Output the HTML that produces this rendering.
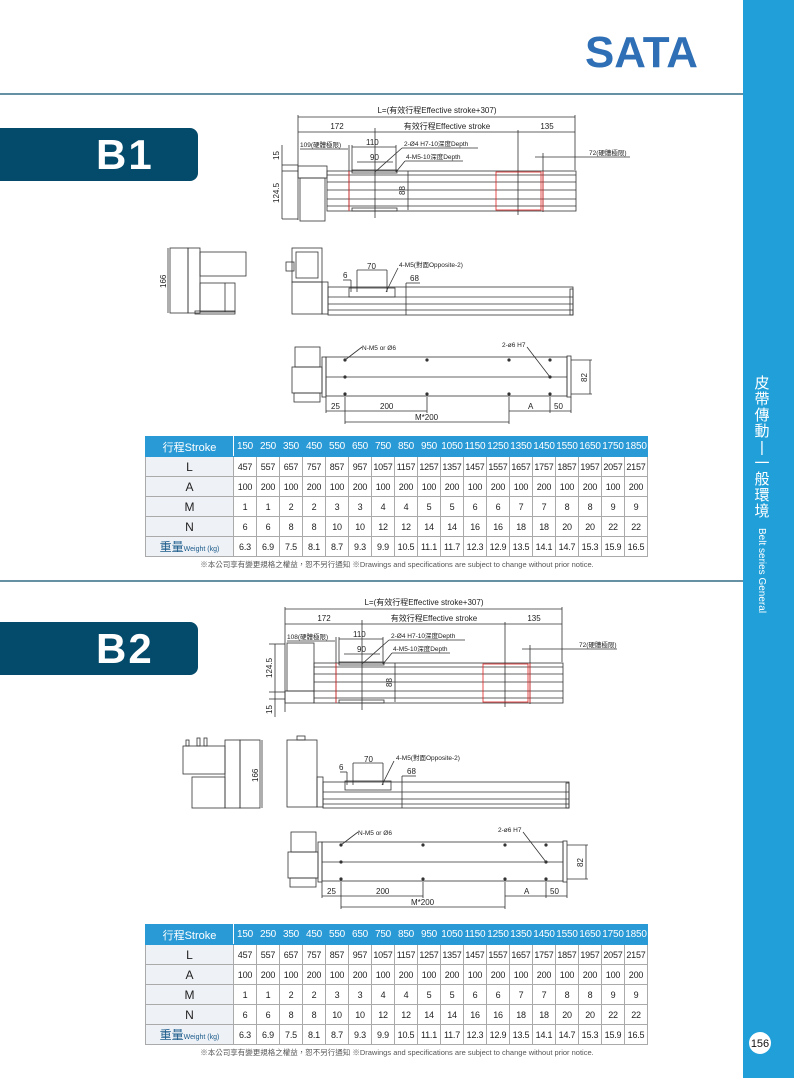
<!DOCTYPE html>
<html><head><meta charset="utf-8"><style>
body{margin:0;width:794px;height:1078px;position:relative;background:#fff;font-family:"Liberation Sans","Noto Sans CJK TC",sans-serif;overflow:hidden}
.tab{position:absolute;left:0;width:198px;height:53px;background:#044a6a;border-radius:0 8px 8px 0;color:#fff;font-weight:bold;font-size:42px;line-height:53px;text-indent:96px;letter-spacing:2px}
table{position:absolute;left:145px;border-collapse:collapse;font-size:9px;color:#222;table-layout:fixed;letter-spacing:-0.2px}
td{height:19px;border:1px solid #aaa;text-align:center;padding:0;white-space:nowrap;overflow:hidden}
td.h{width:87px;background:#eef1f6;font-size:12px;letter-spacing:0}
tr.hd td{background:#2a9ad6;color:#fff;border-color:#2a9ad6;font-size:10px}
tr.hd td.h{background:#2a9ad6;border-right:1px solid #fff;font-size:11px}
td.d{width:22px}
.note{position:absolute;left:150px;width:494px;text-align:center;font-size:7.5px;color:#555}
</style></head><body>
<svg width="794" height="1078" style="position:absolute;left:0;top:0" font-family="Liberation Sans, Noto Sans CJK TC, sans-serif">
<rect x="743" y="0" width="51" height="1078" fill="#219fd9"/>
<line x1="0" y1="94" x2="743" y2="94" stroke="#0a4f6e" stroke-width="1.3"/>
<line x1="0" y1="581" x2="743" y2="581" stroke="#0a4f6e" stroke-width="1.3"/>
<text x="585" y="67" font-size="44" font-weight="bold" fill="#2f6fb5" textLength="113" lengthAdjust="spacingAndGlyphs">SATA</text>
<text font-size="15" fill="#fff" text-anchor="middle"><tspan x="762" y="388">皮</tspan><tspan x="762" y="404">帶</tspan><tspan x="762" y="420">傳</tspan><tspan x="762" y="436">動</tspan><tspan x="762" y="452">|</tspan><tspan x="762" y="468">一</tspan><tspan x="762" y="484">般</tspan><tspan x="762" y="500">環</tspan><tspan x="762" y="516">境</tspan></text>
<text transform="translate(759,528) rotate(90)" font-size="10" fill="#fff">Belt series General</text>
<circle cx="760" cy="1043" r="11" fill="#fff"/>
<text x="760" y="1047" text-anchor="middle" font-size="11" fill="#111">156</text>

<defs>
<g id="bot" stroke="#333" stroke-width="0.8" fill="none">
<rect x="295" y="347" width="25" height="20"/><rect x="292" y="367" width="30" height="26"/><rect x="294" y="393" width="26" height="9"/>
<rect x="322" y="357" width="4" height="40"/>
<rect x="326" y="357" width="241" height="39"/><rect x="567" y="356" width="4" height="41"/>
<line x1="326" y1="377" x2="567" y2="377"/>
<g fill="#333" stroke="none"><circle cx="345" cy="360" r="1.6"/><circle cx="427" cy="360" r="1.6"/><circle cx="509" cy="360" r="1.6"/><circle cx="550" cy="360" r="1.6"/><circle cx="345" cy="377" r="1.6"/><circle cx="550" cy="377" r="1.6"/><circle cx="345" cy="394" r="1.6"/><circle cx="427" cy="394" r="1.6"/><circle cx="509" cy="394" r="1.6"/><circle cx="550" cy="394" r="1.6"/></g>
<line x1="345" y1="360" x2="362" y2="347"/><line x1="550" y1="377" x2="527" y2="347"/>
<line x1="571" y1="360" x2="592" y2="360"/><line x1="571" y1="394" x2="592" y2="394"/><line x1="590" y1="360" x2="590" y2="394"/>
<line x1="326" y1="397" x2="326" y2="413"/><line x1="345" y1="397" x2="345" y2="424"/><line x1="427" y1="397" x2="427" y2="413"/><line x1="509" y1="397" x2="509" y2="424"/><line x1="550" y1="397" x2="550" y2="413"/><line x1="571" y1="397" x2="571" y2="413"/>
<line x1="326" y1="411" x2="427" y2="411"/><line x1="509" y1="411" x2="571" y2="411"/><line x1="345" y1="422" x2="509" y2="422"/>
</g>
</defs>

<!-- B1 -->
<g stroke="#333" stroke-width="0.8" fill="none">
<line x1="298" y1="117" x2="575" y2="117"/><line x1="298" y1="115" x2="298" y2="220"/><line x1="575" y1="115" x2="575" y2="170"/>
<line x1="298" y1="132" x2="575" y2="132"/>
<line x1="375" y1="128" x2="375" y2="218"/><line x1="518" y1="130" x2="518" y2="215"/>
<line x1="300" y1="149" x2="348" y2="149"/><line x1="349" y1="145" x2="349" y2="210"/>
<line x1="352" y1="147" x2="396" y2="147"/><line x1="352" y1="145" x2="352" y2="172"/><line x1="396" y1="145" x2="396" y2="172"/>
<line x1="357" y1="162" x2="393" y2="162"/>
<line x1="375" y1="172" x2="402" y2="148"/><line x1="402" y1="148" x2="478" y2="148"/>
<line x1="396" y1="172" x2="405" y2="161"/><line x1="405" y1="161" x2="463" y2="161"/>
<line x1="535" y1="157" x2="630" y2="157"/><line x1="543" y1="153" x2="543" y2="212"/>
<line x1="282" y1="165" x2="298" y2="165"/><line x1="282" y1="171" x2="298" y2="171"/><line x1="282" y1="219" x2="298" y2="219"/><line x1="282" y1="145" x2="282" y2="219"/>
<rect x="298" y="166" width="29" height="12"/><rect x="300" y="178" width="25" height="43"/>
<rect x="327" y="171" width="249" height="40"/>
<line x1="327" y1="175" x2="576" y2="175"/><line x1="327" y1="182" x2="576" y2="182"/><line x1="327" y1="190" x2="576" y2="190"/><line x1="327" y1="199" x2="576" y2="199"/><line x1="327" y1="206" x2="576" y2="206"/>
<rect x="352" y="170" width="45" height="3"/><rect x="352" y="208" width="45" height="3"/>
<line x1="408" y1="171" x2="408" y2="210"/>
<line x1="349" y1="171" x2="349" y2="211" stroke="#e02020"/><rect x="496" y="172" width="45" height="38" stroke="#e02020"/><line x1="543" y1="171" x2="543" y2="211" stroke="#e02020"/>
<rect x="170" y="248" width="18" height="65"/><rect x="188" y="248" width="12" height="65"/><rect x="200" y="252" width="46" height="24"/><rect x="200" y="283" width="35" height="29"/><line x1="225" y1="283" x2="225" y2="312"/><rect x="195" y="311" width="40" height="3"/>
<line x1="168" y1="248" x2="168" y2="313"/>
<rect x="292" y="248" width="30" height="34"/><rect x="296" y="252" width="22" height="26"/><rect x="286" y="262" width="8" height="9"/>
<rect x="292" y="282" width="30" height="32"/><rect x="322" y="282" width="6" height="32"/>
<rect x="328" y="287" width="245" height="28"/><line x1="328" y1="297" x2="573" y2="297"/><line x1="328" y1="304" x2="573" y2="304"/><line x1="328" y1="310" x2="573" y2="310"/><rect x="570" y="289" width="3" height="26"/>
<rect x="349" y="288" width="46" height="9"/>
<line x1="357" y1="270" x2="387" y2="270"/><line x1="357" y1="270" x2="357" y2="292"/><line x1="387" y1="270" x2="387" y2="292"/>
<line x1="343" y1="280" x2="351" y2="280"/><line x1="351" y1="280" x2="351" y2="292"/>
<line x1="386" y1="292" x2="398" y2="268"/><line x1="406" y1="283" x2="420" y2="283"/><line x1="406" y1="283" x2="406" y2="315"/>
</g>
<g font-size="8" fill="#222">
<text x="437" y="113" text-anchor="middle">L=(有效行程Effective stroke+307)</text>
<text x="337" y="129" text-anchor="middle">172</text>
<text x="447" y="129" text-anchor="middle">有效行程Effective stroke</text>
<text x="547" y="129" text-anchor="middle">135</text>
<text x="300" y="147" font-size="6.5">109(硬體極限)</text>
<text x="366" y="145">110</text><text x="370" y="160">90</text>
<text x="404" y="146" font-size="6.5">2-Ø4 H7-10深度Depth</text>
<text x="406" y="159" font-size="6.5">4-M5-10深度Depth</text>
<text x="589" y="155" font-size="6.5">72(硬體極限)</text>
<text transform="translate(405,195) rotate(-90)">88</text>
<text transform="translate(279,160) rotate(-90)">15</text>
<text transform="translate(279,203) rotate(-90)">124.5</text>
<text transform="translate(166,288) rotate(-90)">166</text>
<text x="367" y="269">70</text><text x="343" y="278">6</text>
<text x="399" y="267" font-size="6.5">4-M5(對面Opposite-2)</text><text x="410" y="281">68</text>
</g>
<use href="#bot"/>
<g font-size="8" fill="#222">
<text x="362" y="350" font-size="6.5">N-M5 or Ø6</text><text x="502" y="347" font-size="6.5">2-ø6 H7</text>
<text transform="translate(587,382) rotate(-90)">82</text>
<text x="331" y="409">25</text><text x="380" y="409">200</text><text x="528" y="409">A</text><text x="554" y="409">50</text><text x="415" y="420">M*200</text>
</g>

<!-- B2 -->
<g transform="translate(-13,492)">
<g stroke="#333" stroke-width="0.8" fill="none">
<line x1="298" y1="117" x2="575" y2="117"/><line x1="298" y1="115" x2="298" y2="220"/><line x1="575" y1="115" x2="575" y2="170"/>
<line x1="298" y1="132" x2="575" y2="132"/>
<line x1="375" y1="128" x2="375" y2="218"/><line x1="518" y1="130" x2="518" y2="215"/>
<line x1="300" y1="149" x2="348" y2="149"/><line x1="349" y1="145" x2="349" y2="210"/>
<line x1="352" y1="147" x2="396" y2="147"/><line x1="352" y1="145" x2="352" y2="172"/><line x1="396" y1="145" x2="396" y2="172"/>
<line x1="357" y1="162" x2="393" y2="162"/>
<line x1="375" y1="172" x2="402" y2="148"/><line x1="402" y1="148" x2="478" y2="148"/>
<line x1="396" y1="172" x2="405" y2="161"/><line x1="405" y1="161" x2="463" y2="161"/>
<line x1="535" y1="157" x2="630" y2="157"/><line x1="543" y1="153" x2="543" y2="212"/>
<line x1="282" y1="152" x2="298" y2="152"/><line x1="282" y1="200" x2="298" y2="200"/><line x1="282" y1="207" x2="298" y2="207"/><line x1="288" y1="152" x2="288" y2="225"/>
<rect x="300" y="151" width="27" height="48"/><rect x="298" y="199" width="29" height="12"/>
<rect x="327" y="171" width="249" height="40"/>
<line x1="327" y1="175" x2="576" y2="175"/><line x1="327" y1="182" x2="576" y2="182"/><line x1="327" y1="190" x2="576" y2="190"/><line x1="327" y1="199" x2="576" y2="199"/><line x1="327" y1="206" x2="576" y2="206"/>
<rect x="352" y="170" width="45" height="3"/><rect x="352" y="208" width="45" height="3"/>
<line x1="408" y1="171" x2="408" y2="210"/>
<line x1="349" y1="171" x2="349" y2="211" stroke="#e02020"/><rect x="496" y="172" width="45" height="38" stroke="#e02020"/><line x1="543" y1="171" x2="543" y2="211" stroke="#e02020"/>
</g>
<g font-size="8" fill="#222">
<text x="437" y="113" text-anchor="middle">L=(有效行程Effective stroke+307)</text>
<text x="337" y="129" text-anchor="middle">172</text>
<text x="447" y="129" text-anchor="middle">有效行程Effective stroke</text>
<text x="547" y="129" text-anchor="middle">135</text>
<text x="300" y="147" font-size="6.5">108(硬體極限)</text>
<text x="366" y="145">110</text><text x="370" y="160">90</text>
<text x="404" y="146" font-size="6.5">2-Ø4 H7-10深度Depth</text>
<text x="406" y="159" font-size="6.5">4-M5-10深度Depth</text>
<text x="592" y="155" font-size="6.5">72(硬體極限)</text>
<text transform="translate(405,195) rotate(-90)">88</text>
<text transform="translate(285,186) rotate(-90)">124.5</text>
<text transform="translate(285,222) rotate(-90)">15</text>
</g>
</g>
<g stroke="#333" stroke-width="0.8" fill="none">
<rect x="183" y="746" width="42" height="28"/><rect x="186" y="740" width="3" height="6"/><rect x="197" y="738" width="3" height="8"/><rect x="204" y="738" width="3" height="8"/>
<rect x="192" y="777" width="33" height="31"/><rect x="225" y="740" width="15" height="68"/><rect x="240" y="740" width="20" height="68"/>
<line x1="262" y1="740" x2="262" y2="808"/>
<rect x="287" y="740" width="30" height="67"/><rect x="297" y="736" width="8" height="4"/><rect x="317" y="777" width="6" height="30"/>
<rect x="323" y="782" width="246" height="26"/><line x1="323" y1="792" x2="569" y2="792"/><line x1="323" y1="799" x2="569" y2="799"/><line x1="323" y1="804" x2="569" y2="804"/><rect x="566" y="783" width="3" height="25"/>
<rect x="345" y="781" width="46" height="9"/>
<line x1="353" y1="763" x2="383" y2="763"/><line x1="353" y1="763" x2="353" y2="785"/><line x1="383" y1="763" x2="383" y2="785"/>
<line x1="340" y1="772" x2="347" y2="772"/><line x1="347" y1="772" x2="347" y2="785"/>
<line x1="382" y1="785" x2="394" y2="761"/><line x1="402" y1="776" x2="416" y2="776"/><line x1="402" y1="776" x2="402" y2="808"/>
</g>
<g font-size="8" fill="#222">
<text transform="translate(258,782) rotate(-90)">166</text>
<text x="364" y="762">70</text><text x="339" y="770">6</text>
<text x="396" y="760" font-size="6.5">4-M5(對面Opposite-2)</text><text x="407" y="774">68</text>
</g>
<use href="#bot" transform="translate(-4,485)"/>
<g font-size="8" fill="#222" transform="translate(-4,485)">
<text x="362" y="350" font-size="6.5">N-M5 or Ø6</text><text x="502" y="347" font-size="6.5">2-ø6 H7</text>
<text transform="translate(587,382) rotate(-90)">82</text>
<text x="331" y="409">25</text><text x="380" y="409">200</text><text x="528" y="409">A</text><text x="554" y="409">50</text><text x="415" y="420">M*200</text>
</g>
</svg>

<div class="tab" style="top:128px">B1</div>
<div class="tab" style="top:622px">B2</div>

<table style="top:436px">
<tr class="hd"><td class="h">行程Stroke</td><td class="d">150</td><td class="d">250</td><td class="d">350</td><td class="d">450</td><td class="d">550</td><td class="d">650</td><td class="d">750</td><td class="d">850</td><td class="d">950</td><td class="d">1050</td><td class="d">1150</td><td class="d">1250</td><td class="d">1350</td><td class="d">1450</td><td class="d">1550</td><td class="d">1650</td><td class="d">1750</td><td class="d">1850</td></tr>
<tr><td class="h">L</td><td>457</td><td>557</td><td>657</td><td>757</td><td>857</td><td>957</td><td>1057</td><td>1157</td><td>1257</td><td>1357</td><td>1457</td><td>1557</td><td>1657</td><td>1757</td><td>1857</td><td>1957</td><td>2057</td><td>2157</td></tr>
<tr><td class="h">A</td><td>100</td><td>200</td><td>100</td><td>200</td><td>100</td><td>200</td><td>100</td><td>200</td><td>100</td><td>200</td><td>100</td><td>200</td><td>100</td><td>200</td><td>100</td><td>200</td><td>100</td><td>200</td></tr>
<tr><td class="h">M</td><td>1</td><td>1</td><td>2</td><td>2</td><td>3</td><td>3</td><td>4</td><td>4</td><td>5</td><td>5</td><td>6</td><td>6</td><td>7</td><td>7</td><td>8</td><td>8</td><td>9</td><td>9</td></tr>
<tr><td class="h">N</td><td>6</td><td>6</td><td>8</td><td>8</td><td>10</td><td>10</td><td>12</td><td>12</td><td>14</td><td>14</td><td>16</td><td>16</td><td>18</td><td>18</td><td>20</td><td>20</td><td>22</td><td>22</td></tr>
<tr><td class="h" style="color:#1a5a8a">重量<span style="font-size:7px">Weight (kg)</span></td><td>6.3</td><td>6.9</td><td>7.5</td><td>8.1</td><td>8.7</td><td>9.3</td><td>9.9</td><td>10.5</td><td>11.1</td><td>11.7</td><td>12.3</td><td>12.9</td><td>13.5</td><td>14.1</td><td>14.7</td><td>15.3</td><td>15.9</td><td>16.5</td></tr>
</table>
<div class="note" style="top:559px">※本公司享有變更規格之權益，恕不另行通知 ※Drawings and specifications are subject to change without prior notice.</div>

<table style="top:924px">
<tr class="hd"><td class="h">行程Stroke</td><td class="d">150</td><td class="d">250</td><td class="d">350</td><td class="d">450</td><td class="d">550</td><td class="d">650</td><td class="d">750</td><td class="d">850</td><td class="d">950</td><td class="d">1050</td><td class="d">1150</td><td class="d">1250</td><td class="d">1350</td><td class="d">1450</td><td class="d">1550</td><td class="d">1650</td><td class="d">1750</td><td class="d">1850</td></tr>
<tr><td class="h">L</td><td>457</td><td>557</td><td>657</td><td>757</td><td>857</td><td>957</td><td>1057</td><td>1157</td><td>1257</td><td>1357</td><td>1457</td><td>1557</td><td>1657</td><td>1757</td><td>1857</td><td>1957</td><td>2057</td><td>2157</td></tr>
<tr><td class="h">A</td><td>100</td><td>200</td><td>100</td><td>200</td><td>100</td><td>200</td><td>100</td><td>200</td><td>100</td><td>200</td><td>100</td><td>200</td><td>100</td><td>200</td><td>100</td><td>200</td><td>100</td><td>200</td></tr>
<tr><td class="h">M</td><td>1</td><td>1</td><td>2</td><td>2</td><td>3</td><td>3</td><td>4</td><td>4</td><td>5</td><td>5</td><td>6</td><td>6</td><td>7</td><td>7</td><td>8</td><td>8</td><td>9</td><td>9</td></tr>
<tr><td class="h">N</td><td>6</td><td>6</td><td>8</td><td>8</td><td>10</td><td>10</td><td>12</td><td>12</td><td>14</td><td>14</td><td>16</td><td>16</td><td>18</td><td>18</td><td>20</td><td>20</td><td>22</td><td>22</td></tr>
<tr><td class="h" style="color:#1a5a8a">重量<span style="font-size:7px">Weight (kg)</span></td><td>6.3</td><td>6.9</td><td>7.5</td><td>8.1</td><td>8.7</td><td>9.3</td><td>9.9</td><td>10.5</td><td>11.1</td><td>11.7</td><td>12.3</td><td>12.9</td><td>13.5</td><td>14.1</td><td>14.7</td><td>15.3</td><td>15.9</td><td>16.5</td></tr>
</table>
<div class="note" style="top:1047px">※本公司享有變更規格之權益，恕不另行通知 ※Drawings and specifications are subject to change without prior notice.</div>
</body></html>
